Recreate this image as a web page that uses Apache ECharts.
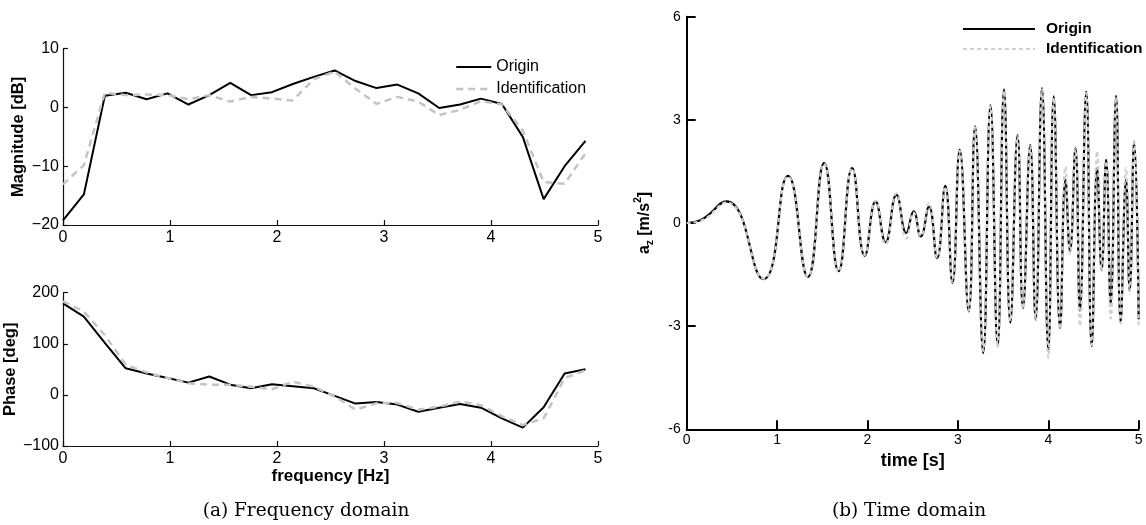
<!DOCTYPE html>
<html>
<head>
<meta charset="utf-8">
<script src="https://cdn.jsdelivr.net/npm/echarts@6/dist/echarts.min.js"></script>
<style>
  html, body { margin: 0; padding: 0; background: #fff; }
  #chart { width: 1146px; height: 525px; }
</style>
</head>
<body>
<div id="chart"></div>
<script>
// Frequency grid [Hz]
const freqHz = [0, 0.195, 0.391, 0.586, 0.781, 0.977, 1.172, 1.367, 1.563, 1.758,
  1.953, 2.148, 2.344, 2.539, 2.734, 2.930, 3.125, 3.320, 3.516, 3.711,
  3.906, 4.102, 4.297, 4.492, 4.688, 4.883];

// Magnitude [dB]
const magOrigin = [-19.2, -14.8, 2.0, 2.5, 1.4, 2.4, 0.5, 2.1, 4.2, 2.1,
  2.6, 4.0, 5.2, 6.3, 4.5, 3.3, 3.9, 2.4, -0.1, 0.5,
  1.5, 0.6, -5.0, -15.6, -10.0, -5.7];
const magIdent = [-13.1, -9.8, 2.5, 2.1, 2.2, 2.1, 1.4, 2.1, 1.0, 1.8,
  1.5, 1.2, 4.8, 6.1, 3.2, 0.6, 1.8, 1.0, -1.3, -0.4,
  1.1, 0.5, -3.9, -12.7, -13.0, -7.8];

// Phase [deg]
const phaseOrigin = [179, 153, 102, 52, 42, 33, 24, 36, 20, 13,
  21, 17, 13, -2, -17, -14, -19, -33, -25, -18,
  -25, -46, -64, -24, 42, 50];
const phaseIdent = [183, 163, 117, 59, 44, 33, 23, 20, 20, 16,
  11, 26, 16, -3, -29, -16, -16, -29, -23, -13,
  -20, -42, -59, -46, 33, 48];

// Time response: turning points of the vertical acceleration
const timeS = [0, 0.15, 0.44, 0.85, 1.12, 1.34, 1.52, 1.68, 1.83, 1.97,
  2.09, 2.20, 2.32, 2.43, 2.51, 2.59, 2.68, 2.77, 2.86, 2.94,
  3.02, 3.12, 3.19, 3.28, 3.36, 3.44, 3.51, 3.58, 3.66, 3.72,
  3.80, 3.86, 3.93, 4.00, 4.06, 4.13, 4.19, 4.24, 4.30, 4.35,
  4.42, 4.48, 4.54, 4.59, 4.64, 4.69, 4.75, 4.80, 4.86, 4.90,
  4.95, 5.00];
const azOrigin = [0, 0.08, 0.63, -1.63, 1.37, -1.57, 1.74, -1.40, 1.60, -0.95,
  0.63, -0.56, 0.82, -0.29, 0.34, -0.39, 0.48, -1.02, 1.08, -1.74,
  2.13, -2.57, 2.81, -3.78, 3.43, -3.58, 3.89, -2.90, 2.56, -2.47,
  2.27, -2.81, 3.92, -3.70, 3.68, -3.05, 1.26, -0.82, 2.18, -2.55,
  3.82, -3.58, 1.60, -1.36, 1.84, -2.35, 3.70, -2.88, 1.26, -1.96,
  2.37, -2.80];
const azIdent = [0, 0.06, 0.60, -1.62, 1.35, -1.55, 1.72, -1.42, 1.58, -0.93,
  0.65, -0.62, 0.86, -0.45, 0.30, -0.38, 0.58, -1.00, 1.05, -1.72,
  2.10, -2.55, 2.78, -3.72, 3.40, -3.62, 3.85, -2.85, 2.52, -2.50,
  2.24, -2.84, 3.88, -3.92, 3.65, -3.08, 1.64, -0.90, 2.15, -3.00,
  3.78, -3.55, 2.08, -1.40, 1.80, -2.78, 3.66, -2.92, 1.60, -1.98,
  2.35, -3.05];

const seriesNames = ['Origin', 'Identification'];
const captions = ['(a) Frequency domain', '(b) Time domain'];

const pairs = (xs, ys) => xs.map((x, i) => [x, ys[i]]);
const SANS = 'Liberation Sans, Arial, Helvetica, sans-serif';
const GRAY = '#c4c4c4';
const GRAY_LIGHT = '#d0d0d0';
// legend entries show the line only, no marker
const noMarker = { color: 'rgba(0,0,0,0)', borderColor: 'rgba(0,0,0,0)', borderWidth: 0, opacity: 0 };

const leftAxisLine = { onZero: false, lineStyle: { color: '#111', width: 1.2 } };
const leftTick = { inside: true, length: 5, lineStyle: { color: '#111', width: 1.2 } };
const leftLabel = {
  fontFamily: SANS, fontSize: 16, color: '#000',
  formatter: v => String(v).replace('-', '\u2212')
};

function freqX(gridIndex, withName) {
  return {
    type: 'value', gridIndex, min: 0, max: 5, interval: 1,
    splitLine: { show: false },
    axisLine: leftAxisLine, axisTick: leftTick,
    axisLabel: Object.assign({ margin: 5 }, leftLabel),
    name: withName ? 'frequency [Hz]' : '',
    nameLocation: 'middle', nameGap: 22,
    nameTextStyle: { fontFamily: SANS, fontSize: 17, fontWeight: 'bold', color: '#000' }
  };
}
function leftY(gridIndex, min, max, interval, name) {
  return {
    type: 'value', gridIndex, min, max, interval,
    splitLine: { show: false },
    axisLine: leftAxisLine, axisTick: leftTick,
    axisLabel: Object.assign({ margin: 4 }, leftLabel),
    name, nameLocation: 'middle', nameRotate: 90, nameGap: 36,
    nameTextStyle: { fontFamily: SANS, fontSize: 16.5, fontWeight: 'bold', color: '#000' }
  };
}

const rightAxisLine = { onZero: false, lineStyle: { color: '#000', width: 2 } };
const rightTick = { inside: true, length: 9, lineStyle: { color: '#000', width: 2 } };
const rightLabel = { fontFamily: SANS, fontSize: 14, color: '#000' };

const captionStyle = { fontFamily: 'DejaVu Serif', fontWeight: 'normal', fontSize: 18.5, color: '#000' };

const option = {
  backgroundColor: '#fff',
  animation: false,
  title: [
    { text: captions[0], left: 306, top: 502, textAlign: 'center', padding: 0, textStyle: captionStyle },
    { text: captions[1], left: 909, top: 502, textAlign: 'center', padding: 0, textStyle: captionStyle }
  ],
  grid: [
    { left: 63, top: 48.7, width: 535, height: 176.3 },
    { left: 63, top: 292.7, width: 535, height: 153.3 },
    { left: 686.7, top: 16.7, width: 452, height: 412.6 }
  ],
  legend: [
    {
      orient: 'vertical', left: 455, top: 59, padding: 0,
      itemWidth: 35, itemHeight: 12, itemGap: 6,
      selectedMode: false, itemStyle: noMarker,
      textStyle: { fontFamily: SANS, fontSize: 16, color: '#000' },
      data: [
        { name: seriesNames[0], itemStyle: noMarker, lineStyle: { color: '#000', width: 2, type: 'solid' } },
        { name: seriesNames[1], itemStyle: noMarker, lineStyle: { color: GRAY, width: 2.5, type: [7, 5] } }
      ]
    },
    {
      orient: 'vertical', left: 962, top: 21, padding: 0,
      itemWidth: 72, itemHeight: 12, itemGap: 4,
      selectedMode: false, itemStyle: noMarker,
      textStyle: { fontFamily: SANS, fontSize: 15.5, fontWeight: 'bold', color: '#000', padding: [0, 0, 0, 6] },
      data: [
        { name: seriesNames[0], itemStyle: noMarker, lineStyle: { color: '#000', width: 2, type: 'solid' } },
        { name: seriesNames[1], itemStyle: noMarker, lineStyle: { color: GRAY_LIGHT, width: 2, type: [4, 3] } }
      ]
    }
  ],
  xAxis: [
    freqX(0, false),
    freqX(1, true),
    {
      type: 'value', gridIndex: 2, min: 0, max: 5, interval: 1,
      splitLine: { show: false },
      axisLine: rightAxisLine, axisTick: rightTick,
      axisLabel: Object.assign({ margin: 4 }, rightLabel),
      name: 'time [s]', nameLocation: 'middle', nameGap: 15,
      nameTextStyle: { fontFamily: SANS, fontSize: 18, fontWeight: 'bold', color: '#000' }
    }
  ],
  yAxis: [
    leftY(0, -20, 10, 10, 'Magnitude [dB]'),
    leftY(1, -100, 200, 100, 'Phase [deg]'),
    {
      type: 'value', gridIndex: 2, min: -6, max: 6, interval: 3,
      splitLine: { show: false },
      axisLine: rightAxisLine, axisTick: rightTick,
      axisLabel: Object.assign({ margin: 6 }, rightLabel),
      name: '{b|a}{sub|z}{b| [m/s}{sup|2}{b|]}',
      nameLocation: 'middle', nameRotate: 90, nameGap: 31,
      nameTextStyle: {
        fontFamily: SANS, fontSize: 16, fontWeight: 'bold', color: '#000',
        rich: {
          b: { fontFamily: SANS, fontSize: 16, fontWeight: 'bold', color: '#000', lineHeight: 22, verticalAlign: 'middle' },
          sub: { fontFamily: SANS, fontSize: 10, fontWeight: 'bold', color: '#000', lineHeight: 22, verticalAlign: 'bottom' },
          sup: { fontFamily: SANS, fontSize: 10, fontWeight: 'bold', color: '#000', lineHeight: 22, verticalAlign: 'top' }
        }
      }
    }
  ],
  series: [
    {
      name: seriesNames[0], type: 'line', xAxisIndex: 0, yAxisIndex: 0, z: 2,
      data: pairs(freqHz, magOrigin), symbol: 'none',
      itemStyle: { color: '#000' },
      lineStyle: { color: '#000', width: 2 }
    },
    {
      name: seriesNames[1], type: 'line', xAxisIndex: 0, yAxisIndex: 0, z: 3,
      data: pairs(freqHz, magIdent), symbol: 'none',
      itemStyle: { color: GRAY },
      lineStyle: { color: GRAY, width: 2.5, type: [7, 5] }
    },
    {
      name: seriesNames[0], type: 'line', xAxisIndex: 1, yAxisIndex: 1, z: 2,
      data: pairs(freqHz, phaseOrigin), symbol: 'none',
      itemStyle: { color: '#000' },
      lineStyle: { color: '#000', width: 2 }
    },
    {
      name: seriesNames[1], type: 'line', xAxisIndex: 1, yAxisIndex: 1, z: 3,
      data: pairs(freqHz, phaseIdent), symbol: 'none',
      itemStyle: { color: GRAY },
      lineStyle: { color: GRAY, width: 2.5, type: [7, 5] }
    },
    {
      name: seriesNames[0], type: 'line', xAxisIndex: 2, yAxisIndex: 2, z: 2,
      data: pairs(timeS, azOrigin), symbol: 'none', smooth: 0.5,
      itemStyle: { color: '#000' },
      lineStyle: { color: '#000', width: 2.2 }
    },
    {
      name: seriesNames[1], type: 'line', xAxisIndex: 2, yAxisIndex: 2, z: 3,
      data: pairs(timeS, azIdent), symbol: 'none', smooth: 0.5,
      itemStyle: { color: GRAY_LIGHT },
      lineStyle: { color: GRAY_LIGHT, width: 2.2, type: [4, 3] }
    }
  ]
};

const chart = echarts.init(document.getElementById('chart'), null, { renderer: 'canvas' });
chart.setOption(option);
</script>
</body>
</html>
